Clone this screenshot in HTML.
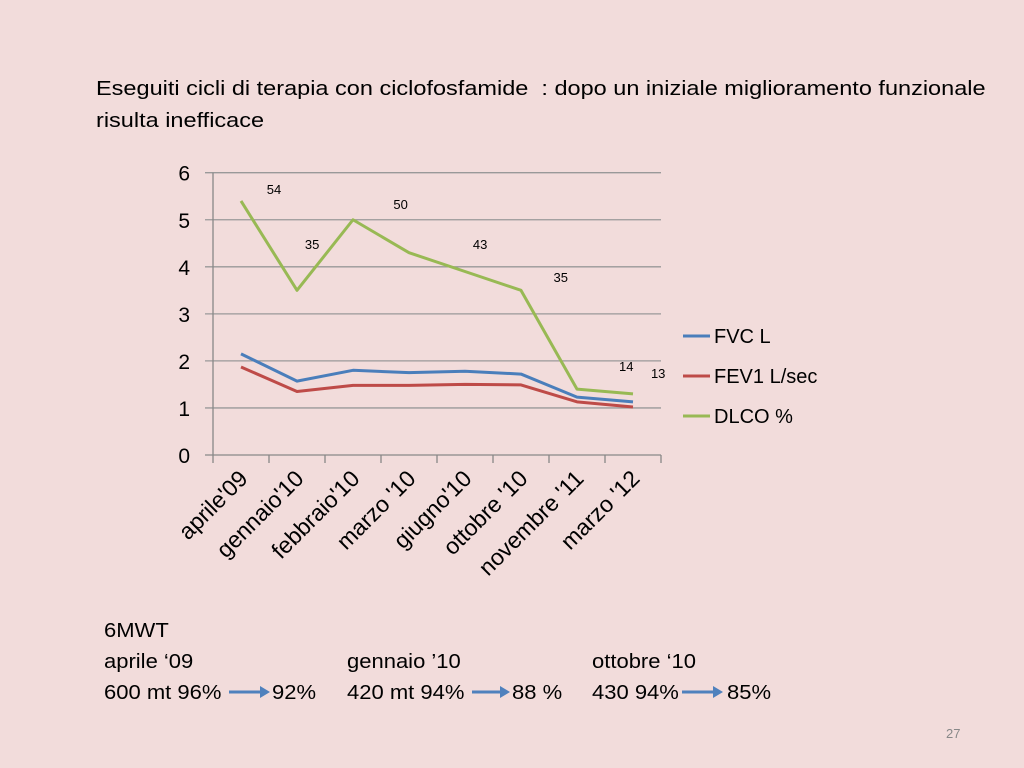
<!DOCTYPE html>
<html><head><meta charset="utf-8"><style>
body{margin:0;width:1024px;height:768px;background:#f2dcdb;overflow:hidden;font-family:"Liberation Sans",sans-serif;}
.t{position:absolute;font-size:20px;color:#000;white-space:nowrap;transform-origin:0 0;}
.ti{transform:scaleX(1.175);}
.b{transform:scaleX(1.1);}
</style></head><body>
<div class="t ti" style="left:96px;top:78px;">Eseguiti cicli di terapia con ciclofosfamide&nbsp; : dopo un iniziale miglioramento funzionale</div>
<div class="t ti" style="left:96px;top:110px;">risulta inefficace</div>
<svg width="1024" height="768" style="position:absolute;left:0;top:0" id="chart"></svg>
<div class="t b" style="left:104px;top:620px;">6MWT</div>
<div class="t b" style="left:104px;top:651px;">aprile ‘09</div>
<div class="t b" style="left:347px;top:651px;">gennaio ’10</div>
<div class="t b" style="left:592px;top:651px;">ottobre ‘10</div>
<div class="t b" style="left:104px;top:682px;">600 mt 96%</div>
<div class="t b" style="left:272px;top:682px;">92%</div>
<div class="t b" style="left:347px;top:682px;">420 mt 94%</div>
<div class="t b" style="left:512px;top:682px;">88 %</div>
<div class="t b" style="left:592px;top:682px;">430 94%</div>
<div class="t b" style="left:727px;top:682px;">85%</div>
<div class="t" style="left:946px;top:726px;font-size:13px;color:#888;">27</div>
<script>
const categories=["aprile'09","gennaio'10","febbraio'10","marzo '10","giugno'10","ottobre '10","novembre '11","marzo '12"];
const fvc=[2.15,1.57,1.8,1.75,1.78,1.72,1.23,1.13];
const fev1=[1.87,1.35,1.48,1.48,1.5,1.49,1.13,1.02];
const dlco=[5.4,3.5,5,4.3,3.9,3.5,1.4,1.3];
const dlcoLabels=["54","35","50","43","35","14","13"];
const dlcoLabelIndex=[0.59,1.27,2.85,4.27,5.71,6.88,7.45];
const dlcoLabelLevels=[5.55,4.38,5.23,4.38,3.68,1.79,1.64];
const yTicks=[0,1,2,3,4,5,6];
const seriesNames=["FVC L","FEV1 L/sec","DLCO %"];
const NS="http://www.w3.org/2000/svg";
const svg=document.getElementById('chart');
const X0=213,X1=661,Y0=455,Y6=172.7;
const cw=(X1-X0)/categories.length;
const xs=i=>X0+cw*(i+0.5);
const ys=v=>Y0-(Y0-Y6)*v/6;
function mk(tag,attrs){const e=document.createElementNS(NS,tag);for(const k in attrs)e.setAttribute(k,attrs[k]);svg.appendChild(e);return e;}
yTicks.forEach(v=>{
  const l=mk('line',{x1:X0-8,x2:X1,y1:ys(v),y2:ys(v),stroke:v===0?'#888':'#999','stroke-width':1.3});
  
  
  const t=mk('text',{x:190,y:ys(v)+8,'text-anchor':'end','font-size':21,'font-family':'Liberation Sans'});
  t.textContent=v;
  
  
});
const ax=mk('line',{x1:X0,x2:X0,y1:Y6,y2:Y0,stroke:'#888','stroke-width':1.3});


for(let i=0;i<=categories.length;i++){
  const tk=mk('line',{x1:X0+cw*i,x2:X0+cw*i,y1:Y0,y2:Y0+8,stroke:'#888','stroke-width':1.3});
  
  
}
categories.forEach((c,i)=>{
  const x=xs(i)+8,y=480;
  const t=mk('text',{x:x,y:y,'text-anchor':'end','font-size':23,'font-family':'Liberation Sans',transform:`rotate(-45 ${x} ${y})`});
  t.textContent=c;
  
  
});
const colors=['#4a7ebb','#be4b48','#98b954'];
[fvc,fev1,dlco].forEach((s,k)=>{
  const p=mk('polyline',{points:s.map((v,i)=>xs(i)+','+ys(v)).join(' '),fill:'none',stroke:colors[k],'stroke-width':3,'stroke-linejoin':'round'});
  
  
});
dlcoLabels.forEach((lab,i)=>{
  const t=mk('text',{x:xs(dlcoLabelIndex[i]),y:ys(dlcoLabelLevels[i]),'text-anchor':'middle','font-size':13,'font-family':'Liberation Sans'});
  t.textContent=lab;
  
  
});
seriesNames.forEach((n,k)=>{
  const y=336+40*k;
  const l=mk('line',{x1:683,x2:710,y1:y,y2:y,stroke:colors[k],'stroke-width':3});
  
  
  const t=mk('text',{x:714,y:y+7,'font-size':20,'font-family':'Liberation Sans'});
  t.textContent=n;
  
  
});
[[229,270],[472,510],[682,723]].forEach(a=>{
  const y=692;
  const l=mk('line',{x1:a[0],x2:a[1]-8,y1:y,y2:y,stroke:'#4f81bd','stroke-width':3});
  
  
  const h=mk('polygon',{points:`${a[1]},${y} ${a[1]-10},${y-6} ${a[1]-10},${y+6}`,fill:'#4f81bd'});
  
  
});
</script>
</body></html>
